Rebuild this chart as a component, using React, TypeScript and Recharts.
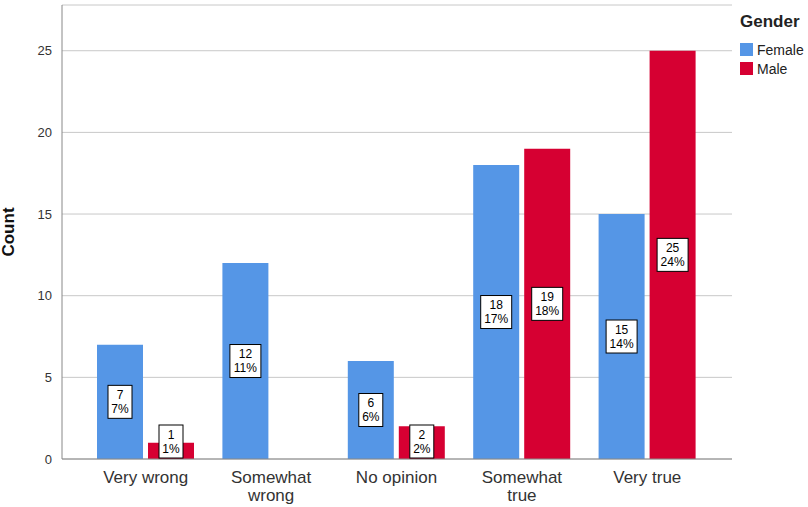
import React from 'react';
import { BarChart, Bar, XAxis, YAxis, CartesianGrid, LabelList } from 'recharts';

const categories = ['Very wrong', 'Somewhat wrong', 'No opinion', 'Somewhat true', 'Very true'];
const femaleCounts = [7, 12, 6, 18, 15];
const maleCounts = [1, 0, 2, 19, 25];
const femalePct = ['7%', '11%', '6%', '17%', '14%'];
const malePct = ['1%', '', '2%', '18%', '24%'];
const yTicks = [0, 5, 10, 15, 20, 25];

const FEMALE = '#5596e6';
const MALE = '#d60032';
const FONT = '"Liberation Sans", Arial, sans-serif';

const data = categories.map((c, i) => ({
  name: c,
  female: femaleCounts[i],
  male: maleCounts[i],
  femaleLabel: femaleCounts[i] ? `${femaleCounts[i]}|${femalePct[i]}` : '',
  maleLabel: maleCounts[i] ? `${maleCounts[i]}|${malePct[i]}` : '',
}));

// white box with count and percent, centred in the bar
const BoxLabel = (props: any) => {
  const { x, y, width, height, value } = props;
  if (!value) return null;
  const lines = String(value).split('|');
  const w = Math.max(...lines.map(l => l.length)) * 7 + 10;
  const h = 33;
  const bottom = Number(y) + Number(height);
  let cy = Number(y) + Number(height) / 2;
  if (cy + h / 2 > bottom) cy = bottom - h / 2 - 1;
  const cx = Number(x) + Number(width) / 2;
  return (
    <g>
      <rect x={cx - w / 2} y={cy - h / 2} width={w} height={h} fill="#fff" stroke="#000" strokeWidth={1} />
      <text x={cx} y={cy - 3} textAnchor="middle" fontSize={12} fontFamily={FONT} fill="#000">{lines[0]}</text>
      <text x={cx} y={cy + 11} textAnchor="middle" fontSize={12} fontFamily={FONT} fill="#000">{lines[1]}</text>
    </g>
  );
};

const CategoryTick = (props: any) => {
  const { x, y, payload } = props;
  const label: string = payload.value;
  let lines = [label];
  if (label.length > 10) {
    const k = label.indexOf(' ');
    lines = [label.slice(0, k), label.slice(k + 1)];
  }
  return (
    <g>
      {lines.map((l, i) => (
        <text key={i} x={x} y={y + 16 + i * 18} textAnchor="middle" fontSize={17} fontFamily={FONT} fill="#333">{l}</text>
      ))}
    </g>
  );
};

const GenderLegend = () => (
  <div style={{ position: 'absolute', left: 740, top: 12, fontFamily: FONT }}>
    <div style={{ fontWeight: 'bold', fontSize: 17, color: '#222', marginBottom: 8 }}>Gender</div>
    {[['Female', FEMALE], ['Male', MALE]].map(([n, c]) => (
      <div key={n} style={{ display: 'flex', alignItems: 'center', height: 19, fontSize: 14, color: '#222' }}>
        <div style={{ width: 13, height: 13, background: c, marginRight: 4 }} />
        <span>{n}</span>
      </div>
    ))}
  </div>
);

export default function App() {
  return (
    <div style={{ position: 'absolute', left: 0, top: 0, width: 808, height: 507, background: '#fff' }}>
      <BarChart
        width={808}
        height={507}
        data={data}
        margin={{ top: 5, right: 76, bottom: 0, left: 0 }}
        barSize={46}
        barGap={5}
      >
        <CartesianGrid vertical={false} stroke="#c8c8c8" />
        <XAxis
          dataKey="name"
          height={48}
          padding={{ left: 21, right: 22 }}
          axisLine={{ stroke: '#888' }}
          tickLine={false}
          tick={<CategoryTick />}
          interval={0}
        />
        <YAxis
          width={62}
          domain={[0, 27.8]}
          ticks={yTicks}
          axisLine={{ stroke: '#888' }}
          tickLine={false}
          tick={{ fontSize: 13, fontFamily: FONT, fill: '#333' }}
          tickMargin={4}
          label={{
            value: 'Count',
            angle: -90,
            position: 'insideLeft',
            offset: 8,
            style: { fontSize: 17, fontWeight: 'bold', fontFamily: FONT, fill: '#111', textAnchor: 'middle' },
          }}
        />
        <Bar dataKey="female" fill={FEMALE} isAnimationActive={false}>
          <LabelList dataKey="femaleLabel" content={BoxLabel} />
        </Bar>
        <Bar dataKey="male" fill={MALE} isAnimationActive={false}>
          <LabelList dataKey="maleLabel" content={BoxLabel} />
        </Bar>
      </BarChart>
      <GenderLegend />
    </div>
  );
}
